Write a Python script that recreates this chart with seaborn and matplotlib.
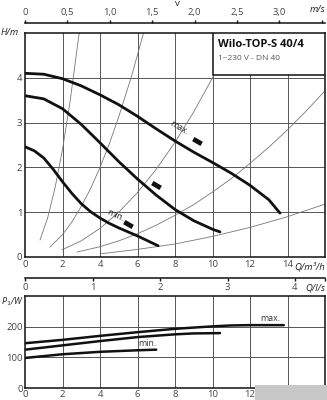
import numpy as np
import matplotlib
matplotlib.use("Agg")
import matplotlib.pyplot as plt
from matplotlib.patches import Rectangle
import seaborn as sns

# ---------------- data ----------------
q_max = [0, 1, 2, 3, 4, 5, 6, 7, 8, 9, 10, 11, 12, 13, 13.6]
h_max = [4.10, 4.08, 3.98, 3.82, 3.62, 3.40, 3.14, 2.86, 2.59, 2.34, 2.11, 1.87, 1.60, 1.28, 0.98]
q_mid = [0, 1, 2, 3, 4, 5, 6, 7, 8, 9, 10, 10.4]
h_mid = [3.60, 3.53, 3.31, 2.96, 2.55, 2.13, 1.74, 1.38, 1.06, 0.81, 0.62, 0.56]
q_min = [0, 0.5, 1, 1.5, 2, 2.5, 3, 3.5, 4, 4.5, 5, 5.5, 6, 6.5, 7.1]
h_min = [2.46, 2.37, 2.21, 1.96, 1.68, 1.42, 1.19, 1.01, 0.87, 0.75, 0.65, 0.56, 0.47, 0.37, 0.25]

# thin system curves
sys_a_q = [0.8, 1.2, 1.6, 2.0, 2.4, 2.89]
sys_a_h = [0.38, 0.86, 1.54, 2.40, 3.46, 5.0]
sys_b_q = [1.33, 2, 2.5, 3, 3.5, 4, 4.5, 5, 5.7, 6.32]
sys_b_h = [0.22, 0.50, 0.78, 1.13, 1.53, 2.0, 2.53, 3.13, 4.06, 5.0]
sys_c_q = [1.97, 3, 4, 5, 6, 7, 8, 9, 10, 11.2]
sys_c_h = [0.16, 0.36, 0.64, 1.0, 1.44, 1.96, 2.56, 3.24, 4.0, 5.0]
sys_d_q = [2.77, 4, 5, 6, 7, 8, 9, 10, 11, 12, 13, 14, 15, 16]
sys_d_h = [0.11, 0.23, 0.36, 0.52, 0.71, 0.93, 1.17, 1.45, 1.75, 2.09, 2.45, 2.84, 3.26, 3.71]
sys_e_q = [4, 6, 8, 10, 12, 14, 16]
sys_e_h = [0.07, 0.17, 0.29, 0.46, 0.66, 0.90, 1.18]

# power curves
p_q_max = [0, 2, 4, 6, 8, 10, 11, 12, 13.8]
p_max = [146, 157, 170, 182, 193, 201, 204, 205, 205]
p_q_mid = [0, 2, 4, 6, 8, 9, 10.4]
p_mid = [125, 139, 153, 166, 175, 178, 179]
p_q_min = [0, 2, 4, 6, 7.0]
p_min = [98, 110, 118, 123, 125]

# markers / labels
mark_q = [9.15, 7.0, 5.5]
mark_h = [2.59, 1.60, 0.73]

q_ticks = [0, 2, 4, 6, 8, 10, 12, 14]
h_ticks = [0, 1, 2, 3, 4]
v_ticks = [0, 0.5, 1.0, 1.5, 2.0, 2.5, 3.0]
ls_ticks = [0, 1, 2, 3, 4]
p_ticks = [0, 100, 200]

# ---------------- style ----------------
sns.set_theme(style="white")
plt.rcParams["font.family"] = ["Open Sans", "DejaVu Sans"]
plt.rcParams["axes.linewidth"] = 1.1

W, H = 327, 400
fig = plt.figure(figsize=(W / 100, H / 100), dpi=100)
fig.patch.set_facecolor("white")

tick_col = "#444444"
grid_col = "#555555"
fs = 6.8

def frac(x0, y0, x1, y1):
    return [x0 / W, 1 - y1 / H, (x1 - x0) / W, (y1 - y0) / H]

# ---------------- top chart ----------------
ax = fig.add_axes(frac(25, 33, 325, 257))
ax.set_xlim(0, 16)
ax.set_ylim(0, 5)
for q in q_ticks[1:]:
    ax.axvline(q, color=grid_col, lw=0.7, zorder=1)
for h in h_ticks[1:]:
    ax.axhline(h, color=grid_col, lw=0.7, zorder=1)

for qs, hs in [(sys_a_q, sys_a_h), (sys_b_q, sys_b_h), (sys_c_q, sys_c_h),
               (sys_d_q, sys_d_h), (sys_e_q, sys_e_h)]:
    sns.lineplot(x=qs, y=hs, ax=ax, color="#777777", lw=0.6, estimator=None,
                 sort=False, zorder=2)

for qs, hs in [(q_max, h_max), (q_mid, h_mid), (q_min, h_min)]:
    l = sns.lineplot(x=qs, y=hs, ax=ax, color="#111111", lw=2.0, estimator=None,
                     sort=False, zorder=4)
for ln in ax.get_lines():
    ln.set_solid_joinstyle("round")

# slanted rectangular markers
ang = np.deg2rad(-30)
rect = np.array([[-1, -0.5], [1, -0.5], [1, 0.5], [-1, 0.5], [-1, -0.5]])
rot = np.array([[np.cos(ang), -np.sin(ang)], [np.sin(ang), np.cos(ang)]])
verts = rect @ rot.T
ax.scatter(mark_q, mark_h, marker=verts, s=60, color="#111111", zorder=5, linewidths=0)

ax.text(8.2, 2.88, "max.", rotation=-30, fontsize=6.3, color="#222222",
        ha="center", va="center", zorder=5)
ax.text(4.85, 0.92, "min.", rotation=-24, fontsize=6.3, color="#222222",
        ha="center", va="center", zorder=5)

ax.set_xticks(q_ticks)
ax.set_xticklabels([str(t) for t in q_ticks])
ax.set_yticks(h_ticks + [5])
ax.set_yticklabels([str(t) for t in h_ticks] + [""])
ax.tick_params(axis="both", length=0, labelsize=fs, labelcolor=tick_col, pad=2)
ax.text(-0.02, 1.0, "H/m", transform=ax.transAxes, ha="right", va="center",
        fontsize=fs, style="italic", color="#222222")
ax.text(1.0, -0.045, "Q/m³/h", transform=ax.transAxes, ha="right", va="center",
        fontsize=fs, style="italic", color="#222222")
for s in ax.spines.values():
    s.set_color("#111111")

# legend / title box
box = Rectangle((0.627, 0.8125), 0.373, 0.1875, transform=ax.transAxes,
                facecolor="white", edgecolor="#111111", lw=1.1, zorder=6)
ax.add_patch(box)
ax.text(0.645, 0.948, "Wilo-TOP-S 40/4", transform=ax.transAxes, fontsize=8.0,
        fontweight="bold", color="#111111", ha="left", va="center", zorder=7)
ax.text(0.645, 0.888, "1~230 V - DN 40", transform=ax.transAxes, fontsize=6.0,
        color="#555555", ha="left", va="center", zorder=7)

# velocity axis (top)
k_v = 3600 * np.pi * 0.02 ** 2
sec = ax.secondary_xaxis("top", functions=(lambda q: q / k_v, lambda v: v * k_v))
sec.spines["top"].set_position(("outward", 7.3))
sec.spines["top"].set_color("#111111")
sec.set_xticks(v_ticks + [3.5])
sec.set_xticklabels([f"{t:.1f}".replace(".", ",") if t else "0" for t in v_ticks] + [""])
sec.tick_params(direction="out", length=2.5, width=1.0, color="#111111",
                labelsize=fs, labelcolor=tick_col, pad=1.5)
ax.text(1.0, 1.105, "m/s", transform=ax.transAxes, ha="right", va="center",
        fontsize=fs, style="italic", color="#222222")
fig.text(177 / W, 1 - 4 / H, "v", ha="center", va="center", fontsize=fs, color="#222222")

# l/s axis (below top chart)
sec2 = ax.secondary_xaxis("bottom", functions=(lambda q: q / 3.6, lambda l: l * 3.6))
sec2.spines["bottom"].set_position(("outward", 15))
sec2.spines["bottom"].set_color("#111111")
sec2.set_xticks(ls_ticks + [16 / 3.6])
sec2.set_xticklabels([str(t) for t in ls_ticks] + [""])
sec2.tick_params(direction="out", length=2.5, width=1.0, color="#111111",
                 labelsize=fs, labelcolor=tick_col, pad=1.5)
ax.text(1.0, -0.138, "Q/l/s", transform=ax.transAxes, ha="right", va="center",
        fontsize=fs, style="italic", color="#222222")

# ---------------- bottom chart ----------------
bx = fig.add_axes(frac(25, 296, 325, 388))
bx.set_xlim(0, 16)
bx.set_ylim(0, 300)
for q in q_ticks[1:]:
    bx.axvline(q, color=grid_col, lw=0.7, zorder=1)
for p in p_ticks[1:]:
    bx.axhline(p, color=grid_col, lw=0.7, zorder=1)
for qs, ps in [(p_q_max, p_max), (p_q_mid, p_mid), (p_q_min, p_min)]:
    sns.lineplot(x=qs, y=ps, ax=bx, color="#111111", lw=1.8, estimator=None,
                 sort=False, zorder=4)
bx.text(13.1, 226, "max.", fontsize=6.3, color="#333333", ha="center", va="center")
bx.text(6.5, 145, "min.", fontsize=6.3, color="#333333", ha="center", va="center")
bx.set_xticks(q_ticks)
bx.set_xticklabels([str(t) for t in q_ticks])
bx.set_yticks(p_ticks)
bx.set_yticklabels([str(t) for t in p_ticks])
bx.tick_params(axis="both", length=0, labelsize=fs, labelcolor=tick_col, pad=1.5)
fig.text(1 / W, 1 - 296 / H, "P$_1$/W", ha="left", va="top",
         fontsize=fs - 0.3, style="italic", color="#222222")
for s in bx.spines.values():
    s.set_color("#111111")

# watermark box
fig.patches.append(Rectangle((255 / W, 0), 72 / W, 15 / H, transform=fig.transFigure,
                             facecolor="#c8c8c8", edgecolor="none", zorder=10))

fig.savefig("out.png", dpi=100, facecolor="white")
